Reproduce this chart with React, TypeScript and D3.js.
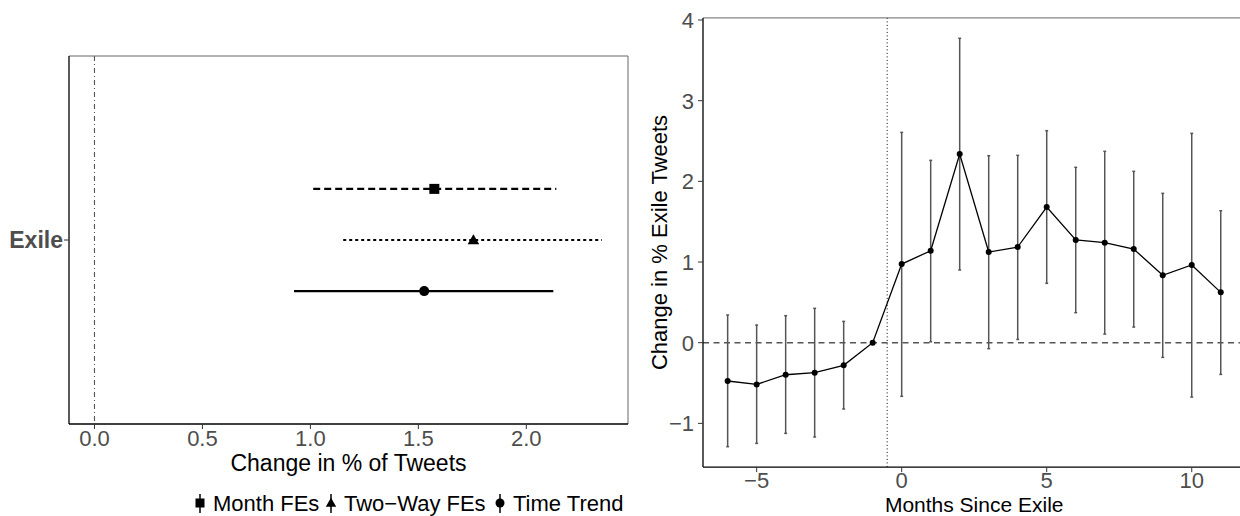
import * as d3 from 'd3';

// left panel: pooled estimates by model
const models = ['Month FEs', 'Two\u2212Way FEs', 'Time Trend'];
const modelEst = [1.574, 1.755, 1.527];
const modelLo = [1.013, 1.152, 0.924];
const modelHi = [2.139, 2.35, 2.125];
const modelDodge = [0.1667, 0, -0.1667];
const modelDash = ['7,4', '3,3', null];
const modelShape = ['square', 'triangle', 'circle'];
const leftTicks = [0, 0.5, 1.0, 1.5, 2.0];

// right panel: event study
const months = [-6, -5, -4, -3, -2, -1, 0, 1, 2, 3, 4, 5, 6, 7, 8, 9, 10, 11];
const est = [-0.475, -0.517, -0.397, -0.372, -0.281, 0, 0.975, 1.14, 2.339, 1.124, 1.186, 1.682, 1.273, 1.24, 1.161, 0.835, 0.963, 0.624];
const lo = [-1.289, -1.248, -1.124, -1.169, -0.822, null, -0.665, 0.012, 0.901, -0.074, 0.041, 0.736, 0.372, 0.107, 0.194, -0.182, -0.674, -0.393];
const hi = [0.343, 0.219, 0.335, 0.426, 0.264, null, 2.607, 2.26, 3.773, 2.318, 2.322, 2.628, 2.174, 2.372, 2.124, 1.851, 2.595, 1.636];
const rightXTicks = [-5, 0, 5, 10];
const rightYTicks = [-1, 0, 1, 2, 3, 4];

const FONT = '"Liberation Sans", Arial, sans-serif';
const TICK = '#4D4D4D';
const minus = (t: number) => (t < 0 ? '\u2212' + Math.abs(t) : String(t));

function Marker({ shape, x, y, s }: { shape: string; x: number; y: number; s: number }) {
  if (shape === 'square') return <rect x={x - s / 2} y={y - s / 2} width={s} height={s} fill="#000" />;
  if (shape === 'triangle') {
    const h = s * 0.95;
    return <path d={`M${x},${y - h * 0.6}L${x + s * 0.58},${y + h * 0.45}L${x - s * 0.58},${y + h * 0.45}Z`} fill="#000" />;
  }
  return <circle cx={x} cy={y} r={s / 2} fill="#000" />;
}

function LeftPanel() {
  const L = 69, R = 628, T = 56, B = 424;
  const x = d3.scaleLinear().domain([-0.118, 2.471]).range([L, R]);
  const y = d3.scaleLinear().domain([0.4, 1.6]).range([B, T]);
  const fmt = d3.format('.1f');
  const legendX = [200, 331, 500];
  const legendTextX = [213, 344, 513];
  return (
    <g>
      <line x1={x(0)} x2={x(0)} y1={T} y2={B} stroke="#555" strokeWidth={1.1} strokeDasharray="5,3,1,3" />
      {models.map((m, i) => {
        const yy = y(1 + modelDodge[i]);
        return (
          <g key={m}>
            <line x1={x(modelLo[i])} x2={x(modelHi[i])} y1={yy} y2={yy} stroke="#000" strokeWidth={2.2}
              strokeDasharray={modelDash[i] || undefined} />
            <Marker shape={modelShape[i]} x={x(modelEst[i])} y={yy} s={10} />
          </g>
        );
      })}
      <line x1={L} x2={R} y1={T} y2={T} stroke="#666" strokeWidth={1} />
      <line x1={R} x2={R} y1={T} y2={B} stroke="#666" strokeWidth={1} />
      <line x1={L} x2={L} y1={T} y2={B} stroke="#000" strokeWidth={1.3} />
      <line x1={L} x2={R} y1={B} y2={B} stroke="#000" strokeWidth={1.3} />
      <line x1={L - 5} x2={L} y1={y(1)} y2={y(1)} stroke="#333" />
      <text x={L - 6} y={y(1) + 8} textAnchor="end" fontSize={23} fontWeight="bold" fill={TICK}>Exile</text>
      {leftTicks.map(t => (
        <g key={t}>
          <line x1={x(t)} x2={x(t)} y1={B} y2={B + 5} stroke="#333" />
          <text x={x(t)} y={446} textAnchor="middle" fontSize={22} fill={TICK}>{fmt(t)}</text>
        </g>
      ))}
      <text x={(L + R) / 2} y={471} textAnchor="middle" fontSize={23} fill="#000">Change in % of Tweets</text>
      {models.map((m, i) => (
        <g key={m}>
          <line x1={legendX[i]} x2={legendX[i]} y1={494} y2={513} stroke="#000" strokeWidth={1.5} />
          <Marker shape={modelShape[i]} x={legendX[i]} y={503} s={9} />
          <text x={legendTextX[i]} y={511} fontSize={22} fill="#000">{m}</text>
        </g>
      ))}
    </g>
  );
}

function RightPanel() {
  const L = 703, R = 1245.4, T = 17.9, B = 467.1;
  const x = d3.scaleLinear().domain([-6.85, 11.85]).range([L, R]);
  const y = d3.scaleLinear().domain([-1.542, 4.026]).range([B, T]);
  const line = d3.line<number>().x((_, i) => x(months[i])).y(d => y(d));
  const cap = 0.05;
  return (
    <g>
      <line x1={L} x2={R} y1={y(0)} y2={y(0)} stroke="#555" strokeWidth={1.6} strokeDasharray="6,4.5" />
      <line x1={x(-0.5)} x2={x(-0.5)} y1={T} y2={B} stroke="#000" strokeWidth={1} strokeDasharray="1,2.5" />
      {months.map((m, i) => lo[i] == null ? null : (
        <g key={m} stroke="#555" strokeWidth={1.5}>
          <line x1={x(m)} x2={x(m)} y1={y(lo[i] as number)} y2={y(hi[i] as number)} />
          <line x1={x(m - cap)} x2={x(m + cap)} y1={y(lo[i] as number)} y2={y(lo[i] as number)} />
          <line x1={x(m - cap)} x2={x(m + cap)} y1={y(hi[i] as number)} y2={y(hi[i] as number)} />
        </g>
      ))}
      <path d={line(est) || ''} fill="none" stroke="#000" strokeWidth={1.3} />
      {months.map((m, i) => <circle key={m} cx={x(m)} cy={y(est[i])} r={3} fill="#000" />)}
      <line x1={L} x2={R} y1={T} y2={T} stroke="#666" strokeWidth={1} />
      <line x1={L} x2={L} y1={T} y2={B} stroke="#000" strokeWidth={1.3} />
      <line x1={L} x2={R} y1={B} y2={B} stroke="#000" strokeWidth={1.3} />
      {rightYTicks.map(t => (
        <g key={t}>
          <line x1={L - 5} x2={L} y1={y(t)} y2={y(t)} stroke="#333" />
          <text x={L - 9} y={y(t) + 8} textAnchor="end" fontSize={22} fill={TICK}>{minus(t)}</text>
        </g>
      ))}
      {rightXTicks.map(t => (
        <g key={t}>
          <line x1={x(t)} x2={x(t)} y1={B} y2={B + 5} stroke="#333" />
          <text x={x(t)} y={488} textAnchor="middle" fontSize={22} fill={TICK}>{minus(t)}</text>
        </g>
      ))}
      <text x={(L + R) / 2} y={512} textAnchor="middle" fontSize={21} fill="#000">Months Since Exile</text>
      <text transform={`translate(667,${(T + B) / 2}) rotate(-90)`} textAnchor="middle" fontSize={22} fill="#000">
        Change in % Exile Tweets
      </text>
    </g>
  );
}

export default function App() {
  return (
    <svg width={1240} height={516} style={{ position: 'absolute', left: 0, top: 0, background: '#fff' }}
      fontFamily={FONT}>
      <rect width={1240} height={516} fill="#fff" />
      <LeftPanel />
      <RightPanel />
    </svg>
  );
}
